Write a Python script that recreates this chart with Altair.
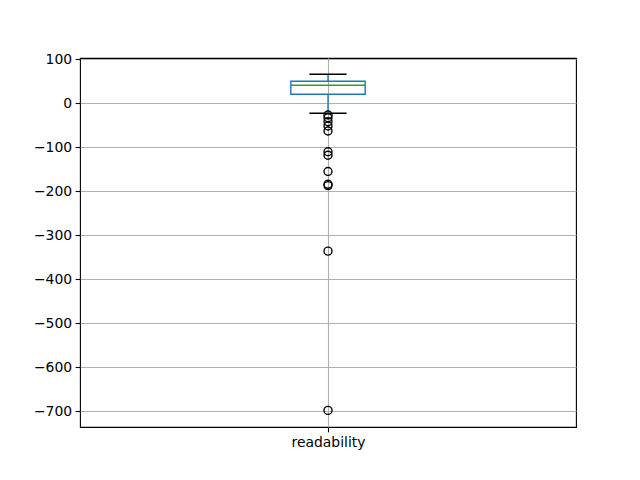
import altair as alt
import pandas as pd

# --- data ---
column_name = ["readability"]
position = [1.0]
whisker_low = [-22.7]
q1 = [20.5]
median = [41.0]
q3 = [50.0]
whisker_high = [66.0]
fliers = [-26.6, -32.7, -41.8, -51.6, -63.0, -110.0, -118.0, -155.0, -184.0, -187.0, -336.0, -698.0]
y_ticks = [100, 0, -100, -200, -300, -400, -500, -600, -700]

box_width = 0.15
cap_width = box_width / 2

stats = pd.DataFrame({
    "pos": position,
    "lo": [p - box_width / 2 for p in position],
    "hi": [p + box_width / 2 for p in position],
    "clo": [p - cap_width / 2 for p in position],
    "chi": [p + cap_width / 2 for p in position],
    "wl": whisker_low, "q1": q1, "med": median, "q3": q3, "wh": whisker_high,
})
flier_df = pd.DataFrame({"pos": position * len(fliers), "value": fliers})

FONT = "DejaVu Sans"
BLUE = "#1f77b4"
GREEN = "#2ca02c"
LW = 1.39

xscale = alt.Scale(domain=[0.5, 1.5], nice=False, zero=False)
yscale = alt.Scale(domain=[-735.7, 103.0], nice=False, zero=False)

label = column_name[0]
xaxis = alt.Axis(values=position, labelExpr=f"'{label}'", title=None, grid=True,
                 labelAngle=0)
yaxis = alt.Axis(values=y_ticks, labelExpr="replace(datum.label, '-', '\u2212')",
                 title=None, grid=True)

base = alt.Chart(stats)

box = base.mark_rect(fillOpacity=0, stroke=BLUE, strokeWidth=LW).encode(
    x=alt.X("lo:Q", scale=xscale, axis=xaxis), x2="hi:Q",
    y=alt.Y("q1:Q", scale=yscale, axis=yaxis), y2="q3:Q")

wh_up = base.mark_rule(color=BLUE, strokeWidth=LW).encode(
    x=alt.X("pos:Q", scale=xscale), y=alt.Y("q3:Q", scale=yscale), y2="wh:Q")
wh_lo = base.mark_rule(color=BLUE, strokeWidth=LW).encode(
    x=alt.X("pos:Q", scale=xscale), y=alt.Y("wl:Q", scale=yscale), y2="q1:Q")

cap_up = base.mark_rule(color="black", strokeWidth=LW).encode(
    x=alt.X("clo:Q", scale=xscale), x2="chi:Q", y=alt.Y("wh:Q", scale=yscale))
cap_lo = base.mark_rule(color="black", strokeWidth=LW).encode(
    x=alt.X("clo:Q", scale=xscale), x2="chi:Q", y=alt.Y("wl:Q", scale=yscale))

med = base.mark_rule(color=GREEN, strokeWidth=LW).encode(
    x=alt.X("lo:Q", scale=xscale), x2="hi:Q", y=alt.Y("med:Q", scale=yscale))

pts = alt.Chart(flier_df).mark_point(shape="circle", filled=False, color="black",
                                     size=64, strokeWidth=LW, opacity=1).encode(
    x=alt.X("pos:Q", scale=xscale), y=alt.Y("value:Q", scale=yscale))

chart = alt.layer(box, wh_up, wh_lo, cap_up, cap_lo, med, pts).properties(
    width=496, height=369,
    autosize=alt.AutoSizeParams(type="none"),
    padding={"left": 80, "top": 58, "right": 64, "bottom": 53},
    background="white",
).configure_view(stroke="black", strokeWidth=1.1).configure_axis(
    domain=False, gridColor="#b0b0b0", gridWidth=1.1, gridOpacity=1,
    tickColor="black", tickWidth=1.1, tickSize=4.86, labelPadding=3.5,
    labelFont=FONT, labelFontSize=13.9, labelColor="black",
)

chart.save("out.html", embed_options={"renderer": "svg", "actions": False})
